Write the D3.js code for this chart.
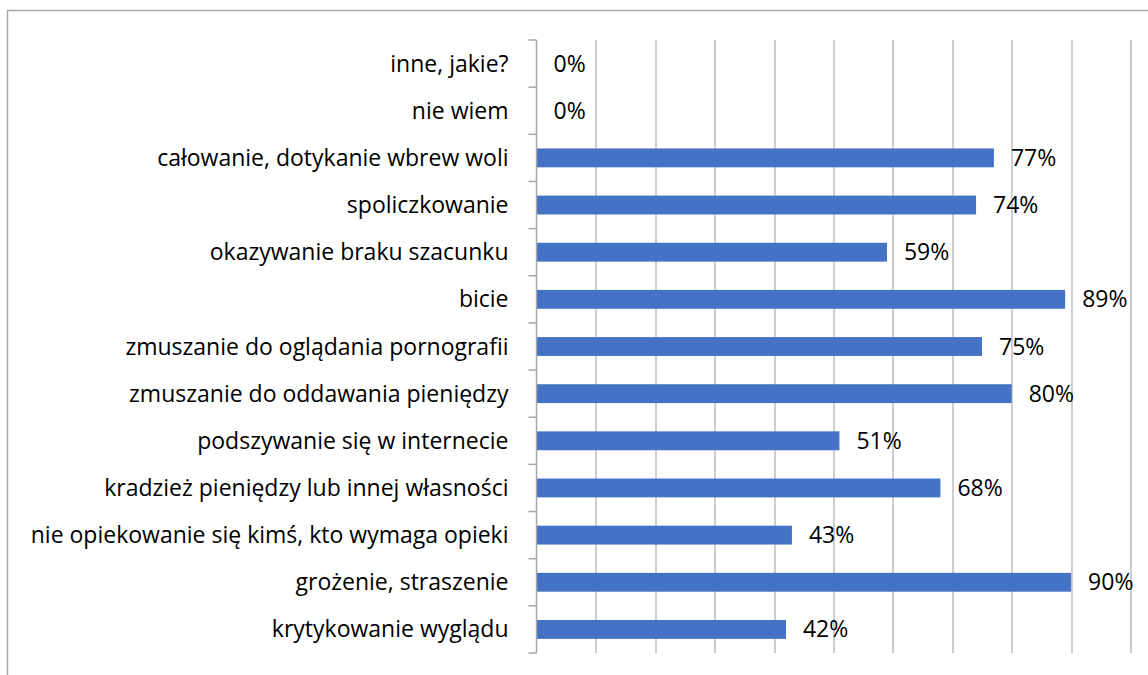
<!DOCTYPE html>
<html>
<head>
<meta charset="utf-8">
<script src="https://cdn.jsdelivr.net/npm/d3@7"></script>
<style>
  body { margin: 0; background: #fff; }
  svg { display: block; }
</style>
</head>
<body>
<svg id="chart" width="1148" height="675"></svg>
<script>
// categories top to bottom, as in the picture
const categories = [
  "inne, jakie?",
  "nie wiem",
  "całowanie, dotykanie wbrew woli",
  "spoliczkowanie",
  "okazywanie braku szacunku",
  "bicie",
  "zmuszanie do oglądania pornografii",
  "zmuszanie do oddawania pieniędzy",
  "podszywanie się w internecie",
  "kradzież pieniędzy lub innej własności",
  "nie opiekowanie się kimś, kto wymaga opieki",
  "grożenie, straszenie",
  "krytykowanie wyglądu"
];
const values = [0, 0, 77, 74, 59, 89, 75, 80, 51, 68, 43, 90, 42];
const xTicks = [0, 10, 20, 30, 40, 50, 60, 70, 80, 90, 100];

const svg = d3.select("#chart"),
      margin = {top: 40, left: 536.5, right: 17.5, bottom: 22},
      width  = +svg.attr("width") - margin.left - margin.right,
      height = +svg.attr("height") - margin.top - margin.bottom,
      font   = "Open Sans, Liberation Sans, sans-serif";

// outer chart border (runs past the right and bottom edge)
svg.append("rect")
  .attr("x", 7.5).attr("y", 10.5)
  .attr("width", 1200).attr("height", 700)
  .attr("fill", "none")
  .attr("stroke", "#a6a6a6")
  .attr("stroke-width", 1.5);

const x = d3.scaleLinear().domain([0, 100]).range([0, width]);
const y = d3.scaleBand().domain(categories).range([0, height]).paddingInner(0.6).paddingOuter(0.3);

const g = svg.append("g").attr("transform", `translate(${margin.left},${margin.top})`);

// vertical gridlines
g.append("g")
  .selectAll("line")
  .data(xTicks.slice(1))
  .enter().append("line")
  .attr("x1", d => Math.round(x(d)) + 0.5)
  .attr("x2", d => Math.round(x(d)) + 0.5)
  .attr("y1", 0)
  .attr("y2", height)
  .attr("stroke", "#b4b4b4")
  .attr("stroke-width", 1.3);

// bars
g.selectAll(".bar")
  .data(values)
  .enter().append("rect")
  .attr("class", "bar")
  .attr("x", 0)
  .attr("y", (d, i) => y(categories[i]))
  .attr("width", d => x(d))
  .attr("height", y.bandwidth())
  .attr("fill", "#4472c4");

// y axis with ticks between categories
const yAxis = g.append("g");
yAxis.append("line")
  .attr("x1", 0).attr("x2", 0)
  .attr("y1", 0).attr("y2", height)
  .attr("stroke", "#a6a6a6").attr("stroke-width", 1.5);
yAxis.selectAll(".tk")
  .data(d3.range(categories.length + 1))
  .enter().append("line")
  .attr("class", "tk")
  .attr("x1", -8).attr("x2", 0)
  .attr("y1", i => i * height / categories.length)
  .attr("y2", i => i * height / categories.length)
  .attr("stroke", "#a6a6a6").attr("stroke-width", 1.5);

// category labels
g.selectAll(".cat")
  .data(categories)
  .enter().append("text")
  .attr("class", "cat")
  .attr("x", -28)
  .attr("y", d => y(d) + y.bandwidth() / 2)
  .attr("dy", "0.35em")
  .attr("text-anchor", "end")
  .style("font-family", font)
  .style("font-size", "23px")
  .style("fill", "#000")
  .text(d => d);

// value labels
g.selectAll(".val")
  .data(values)
  .enter().append("text")
  .attr("class", "val")
  .attr("x", d => x(d) + 17)
  .attr("y", (d, i) => y(categories[i]) + y.bandwidth() / 2)
  .attr("dy", "0.35em")
  .style("font-family", font)
  .style("font-size", "23px")
  .style("fill", "#000")
  .text(d => d + "%");
</script>
</body>
</html>
